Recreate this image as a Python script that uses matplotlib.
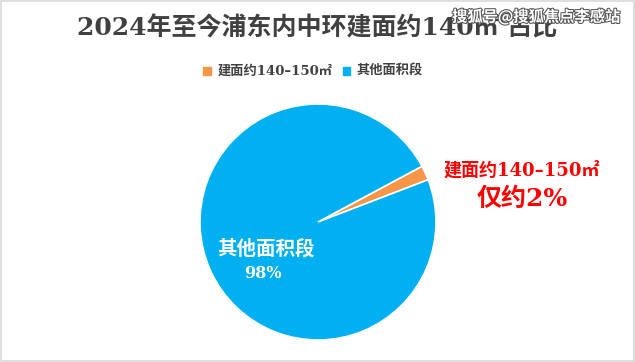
import matplotlib.pyplot as plt
import matplotlib.patheffects as pe
from matplotlib.patches import Rectangle

# --- data ---
categories = ["建面约140–150㎡", "其他面积段"]
shares = [2, 98]
colors = ["#F79646", "#00B0F0"]

W, H = 635, 362
fig = plt.figure(figsize=(W / 100, H / 100), dpi=100)
fam = ["DejaVu Serif", "Noto Sans CJK SC"]


def px(x, y):
    return x / W, 1 - y / H


# outer border
fig.patches.append(Rectangle((0.002, 0.003), 0.996, 0.994, transform=fig.transFigure,
                             fill=False, edgecolor="#D9D9D9", linewidth=1.2))

# title
fig.text(*px(317, 27), "2024年至今浦东内中环建面约140㎡ 占比", ha="center", va="center",
         fontsize=18, fontweight="bold", color="#404040", family=fam)

# watermark
fig.text(*px(536, 17), "搜狐号@搜狐焦点李感站", ha="center", va="center", fontsize=11,
         color="white", family=["Noto Sans CJK SC"], fontweight="bold",
         path_effects=[pe.withStroke(linewidth=1.5, foreground="#555555")])

# legend
sq = 7.5
for (x0, x1), lab, c in zip([(203, 218), (343, 357)], categories, colors):
    fig.patches.append(Rectangle(px(x0, 71 + sq / 2), sq / W, sq / H,
                                 transform=fig.transFigure, color=c))
    fig.text(*px(x1, 71), lab, ha="left", va="center", fontsize=9.5,
             fontweight="bold", color="#404040", family=fam)

# pie
cx, cy, r = 318, 222, 118
ax = fig.add_axes([(cx - r) / W, (H - cy - r) / H, 2 * r / W, 2 * r / H])
ax.pie(shares, colors=colors, startangle=21, counterclock=True,
       wedgeprops=dict(edgecolor="white", linewidth=1.2))
ax.set_xlim(-1, 1)
ax.set_ylim(-1, 1)
ax.set_aspect("equal")
ax.axis("off")

# slice labels
fig.text(*px(522, 170), categories[0], ha="center", va="center", fontsize=13,
         fontweight="bold", color="#FF0000", family=fam)
fig.text(*px(522, 199), f"仅约{shares[0]}%", ha="center", va="center", fontsize=18,
         fontweight="bold", color="#FF0000", family=fam)
fig.text(*px(266, 249), categories[1], ha="center", va="center", fontsize=14,
         fontweight="bold", color="white", family=fam)
fig.text(*px(263, 273), f"{shares[1]}%", ha="center", va="center", fontsize=11.5,
         fontweight="bold", color="white", family=fam)

fig.savefig("out.png", dpi=100)
